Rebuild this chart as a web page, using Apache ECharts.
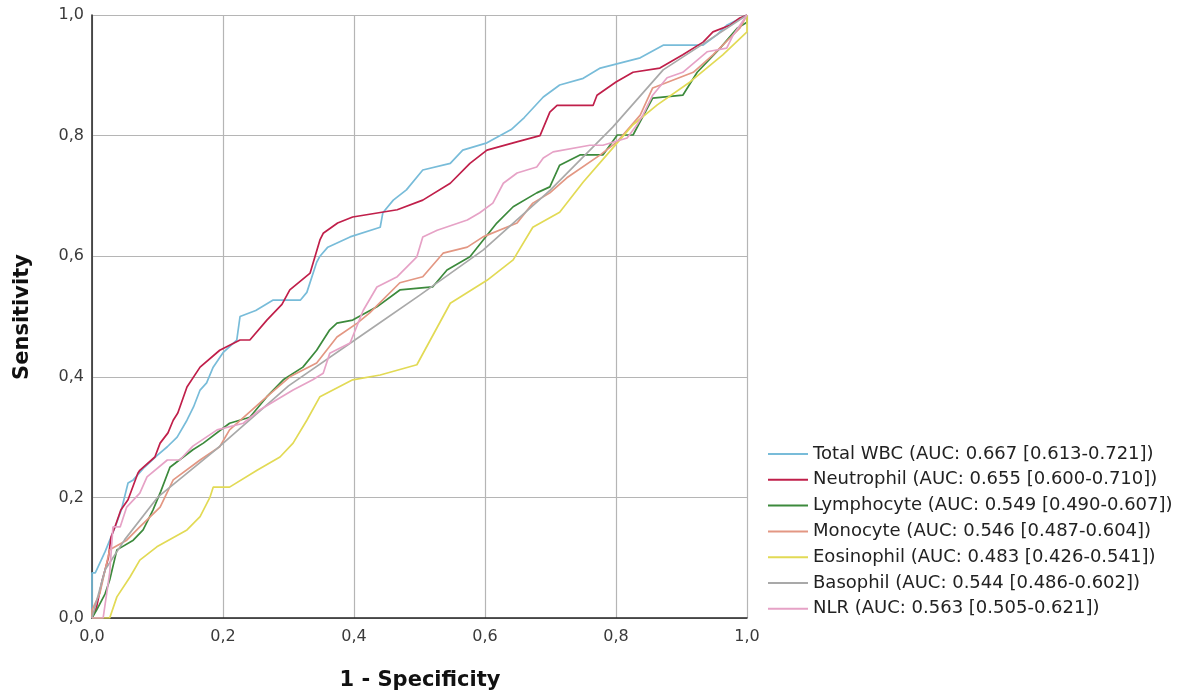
<!DOCTYPE html>
<html>
<head>
<meta charset="utf-8">
<script src="https://cdn.jsdelivr.net/npm/echarts@6/dist/echarts.min.js"></script>
<style>
html,body{margin:0;padding:0;background:#fff;}
#c{width:1188px;height:691px;}
</style>
</head>
<body>
<div id="c"></div>
<script>
const seriesNames = [
  'Total WBC (AUC: 0.667 [0.613-0.721])',
  'Neutrophil (AUC: 0.655 [0.600-0.710])',
  'Lymphocyte (AUC: 0.549 [0.490-0.607])',
  'Monocyte (AUC: 0.546 [0.487-0.604])',
  'Eosinophil (AUC: 0.483 [0.426-0.541])',
  'Basophil (AUC: 0.544 [0.486-0.602])',
  'NLR (AUC: 0.563 [0.505-0.621])'
];
const seriesColors = ['#78bcd9', '#c01f4a', '#3c8a3c', '#e39783', '#e2da55', '#a9a9a9', '#e6a2c6'];
const tickValues = [0, 0.2, 0.4, 0.6, 0.8, 1.0];

// [1 - Specificity, Sensitivity]
const wbcROC = [[0,0],[0,0.075],[0.005,0.075],[0.02,0.11],[0.035,0.15],[0.045,0.18],[0.055,0.224],[0.063,0.229],[0.08,0.25],[0.1,0.27],[0.115,0.284],[0.13,0.3],[0.145,0.328],[0.155,0.35],[0.165,0.378],[0.175,0.39],[0.185,0.416],[0.2,0.44],[0.221,0.461],[0.226,0.5],[0.25,0.51],[0.276,0.527],[0.318,0.527],[0.328,0.54],[0.343,0.59],[0.348,0.6],[0.36,0.615],[0.394,0.632],[0.44,0.648],[0.444,0.672],[0.46,0.693],[0.48,0.71],[0.505,0.743],[0.547,0.754],[0.566,0.776],[0.603,0.788],[0.64,0.81],[0.66,0.83],[0.689,0.864],[0.714,0.884],[0.75,0.895],[0.776,0.912],[0.837,0.929],[0.872,0.95],[0.933,0.95],[0.954,0.967],[0.969,0.983],[1,1]];
const neutrophilROC = [[0,0],[0.007,0.018],[0.015,0.06],[0.025,0.1],[0.029,0.134],[0.035,0.151],[0.044,0.179],[0.055,0.196],[0.07,0.24],[0.073,0.245],[0.096,0.267],[0.104,0.29],[0.116,0.307],[0.124,0.328],[0.131,0.34],[0.145,0.383],[0.165,0.416],[0.195,0.444],[0.226,0.461],[0.241,0.461],[0.267,0.494],[0.29,0.52],[0.302,0.544],[0.333,0.572],[0.348,0.627],[0.353,0.638],[0.375,0.655],[0.398,0.665],[0.466,0.677],[0.505,0.693],[0.547,0.721],[0.577,0.754],[0.603,0.776],[0.65,0.79],[0.684,0.8],[0.699,0.839],[0.71,0.85],[0.765,0.85],[0.771,0.867],[0.8,0.889],[0.826,0.905],[0.867,0.912],[0.902,0.934],[0.933,0.955],[0.948,0.972],[0.974,0.983],[0.989,0.995],[1,1]];
const lymphocyteROC = [[0,0],[0.007,0.013],[0.02,0.04],[0.027,0.063],[0.038,0.113],[0.063,0.129],[0.078,0.146],[0.093,0.179],[0.105,0.21],[0.119,0.25],[0.154,0.279],[0.17,0.29],[0.21,0.323],[0.241,0.333],[0.267,0.367],[0.292,0.395],[0.322,0.416],[0.343,0.444],[0.363,0.478],[0.374,0.489],[0.398,0.494],[0.435,0.516],[0.47,0.544],[0.52,0.549],[0.542,0.577],[0.577,0.599],[0.618,0.655],[0.643,0.682],[0.679,0.705],[0.699,0.715],[0.714,0.751],[0.745,0.768],[0.78,0.768],[0.802,0.801],[0.826,0.801],[0.856,0.862],[0.902,0.867],[0.924,0.905],[0.959,0.945],[0.985,0.978],[1,0.988],[1,1]];
const monocyteROC = [[0,0],[0,0.013],[0.012,0.041],[0.027,0.113],[0.053,0.129],[0.073,0.151],[0.104,0.184],[0.124,0.229],[0.165,0.262],[0.195,0.284],[0.21,0.312],[0.267,0.367],[0.302,0.4],[0.343,0.423],[0.374,0.466],[0.405,0.489],[0.424,0.506],[0.47,0.556],[0.505,0.566],[0.536,0.605],[0.573,0.615],[0.597,0.632],[0.649,0.655],[0.673,0.688],[0.699,0.705],[0.725,0.73],[0.776,0.768],[0.802,0.79],[0.837,0.834],[0.856,0.879],[0.918,0.905],[0.948,0.934],[0.989,0.978],[1,1]];
const eosinophilROC = [[0,0],[0.027,0],[0.038,0.035],[0.058,0.068],[0.073,0.096],[0.099,0.118],[0.145,0.146],[0.165,0.168],[0.18,0.2],[0.185,0.217],[0.21,0.217],[0.252,0.245],[0.287,0.267],[0.307,0.29],[0.328,0.328],[0.348,0.367],[0.398,0.395],[0.44,0.403],[0.496,0.42],[0.547,0.522],[0.603,0.56],[0.643,0.594],[0.673,0.648],[0.714,0.673],[0.75,0.723],[0.786,0.768],[0.826,0.818],[0.863,0.851],[0.913,0.889],[0.963,0.934],[1,0.972],[1,1]];
const basophilROC = [[0,0],[0.02,0.08],[0.05,0.13],[0.1,0.2],[0.19,0.28],[0.3,0.385],[0.424,0.478],[0.5,0.535],[0.597,0.61],[0.7,0.71],[0.795,0.814],[0.872,0.909],[0.93,0.95],[1,1]];
const nlrROC = [[0,0],[0.017,0],[0.027,0.075],[0.032,0.151],[0.043,0.151],[0.053,0.184],[0.073,0.207],[0.084,0.234],[0.115,0.262],[0.134,0.262],[0.154,0.285],[0.191,0.312],[0.231,0.323],[0.256,0.345],[0.282,0.362],[0.307,0.378],[0.337,0.395],[0.353,0.406],[0.363,0.439],[0.394,0.456],[0.414,0.51],[0.435,0.549],[0.466,0.566],[0.496,0.599],[0.505,0.632],[0.527,0.643],[0.573,0.66],[0.592,0.672],[0.612,0.688],[0.628,0.721],[0.649,0.738],[0.679,0.748],[0.689,0.763],[0.704,0.773],[0.76,0.784],[0.78,0.784],[0.817,0.796],[0.832,0.818],[0.841,0.834],[0.856,0.867],[0.878,0.896],[0.902,0.905],[0.939,0.939],[0.969,0.945],[0.979,0.967],[1,1]];

const allData = [wbcROC, neutrophilROC, lymphocyteROC, monocyteROC, eosinophilROC, basophilROC, nlrROC];

const FONT = '"DejaVu Sans", "Liberation Sans", Arial, sans-serif';
const fmt = v => v.toFixed(1).replace('.', ',');

const chart = echarts.init(document.getElementById('c'), null, {renderer: 'canvas'});
const axisCommon = {
  type: 'value', min: tickValues[0], max: tickValues[tickValues.length - 1], interval: 0.2,
  axisLine: {show: true, onZero: false, lineStyle: {color: '#222', width: 1.5}},
  axisTick: {show: false},
  splitLine: {show: true, lineStyle: {color: '#b5b5b5', width: 1.2}},
  axisLabel: {formatter: fmt, color: '#3a3a3a', fontSize: 16, fontFamily: FONT}
};
chart.setOption({
  animation: false,
  backgroundColor: '#ffffff',
  grid: {left: 92, right: 441, top: 15, bottom: 73, containLabel: false},
  xAxis: Object.assign({}, axisCommon, {axisLabel: Object.assign({}, axisCommon.axisLabel, {margin: 11})}),
  yAxis: Object.assign({}, axisCommon, {axisLabel: Object.assign({}, axisCommon.axisLabel, {margin: 8})}),
  legend: {
    orient: 'vertical', left: 763, top: 439, align: 'left',
    icon: 'rect', itemWidth: 40, itemHeight: 2, itemGap: 5.8,
    textStyle: {fontSize: 18, fontFamily: FONT, color: '#222', lineHeight: 20},
    data: seriesNames
  },
  graphic: [
    {type: 'text', x: 23, y: 317, rotation: Math.PI / 2,
     style: {text: 'Sensitivity', font: 'bold 21px ' + FONT, fill: '#111', align: 'center', verticalAlign: 'middle'}},
    {type: 'text', x: 420, y: 681,
     style: {text: '1 - Specificity', font: 'bold 21px ' + FONT, fill: '#111', align: 'center', verticalAlign: 'middle'}}
  ],
  series: seriesNames.map((name, i) => ({
    name: name, type: 'line', data: allData[i], symbol: 'none', showSymbol: false,
    color: seriesColors[i],
    lineStyle: {color: seriesColors[i], width: 1.7},
    z: 2 + i
  }))
});
</script>
</body>
</html>
